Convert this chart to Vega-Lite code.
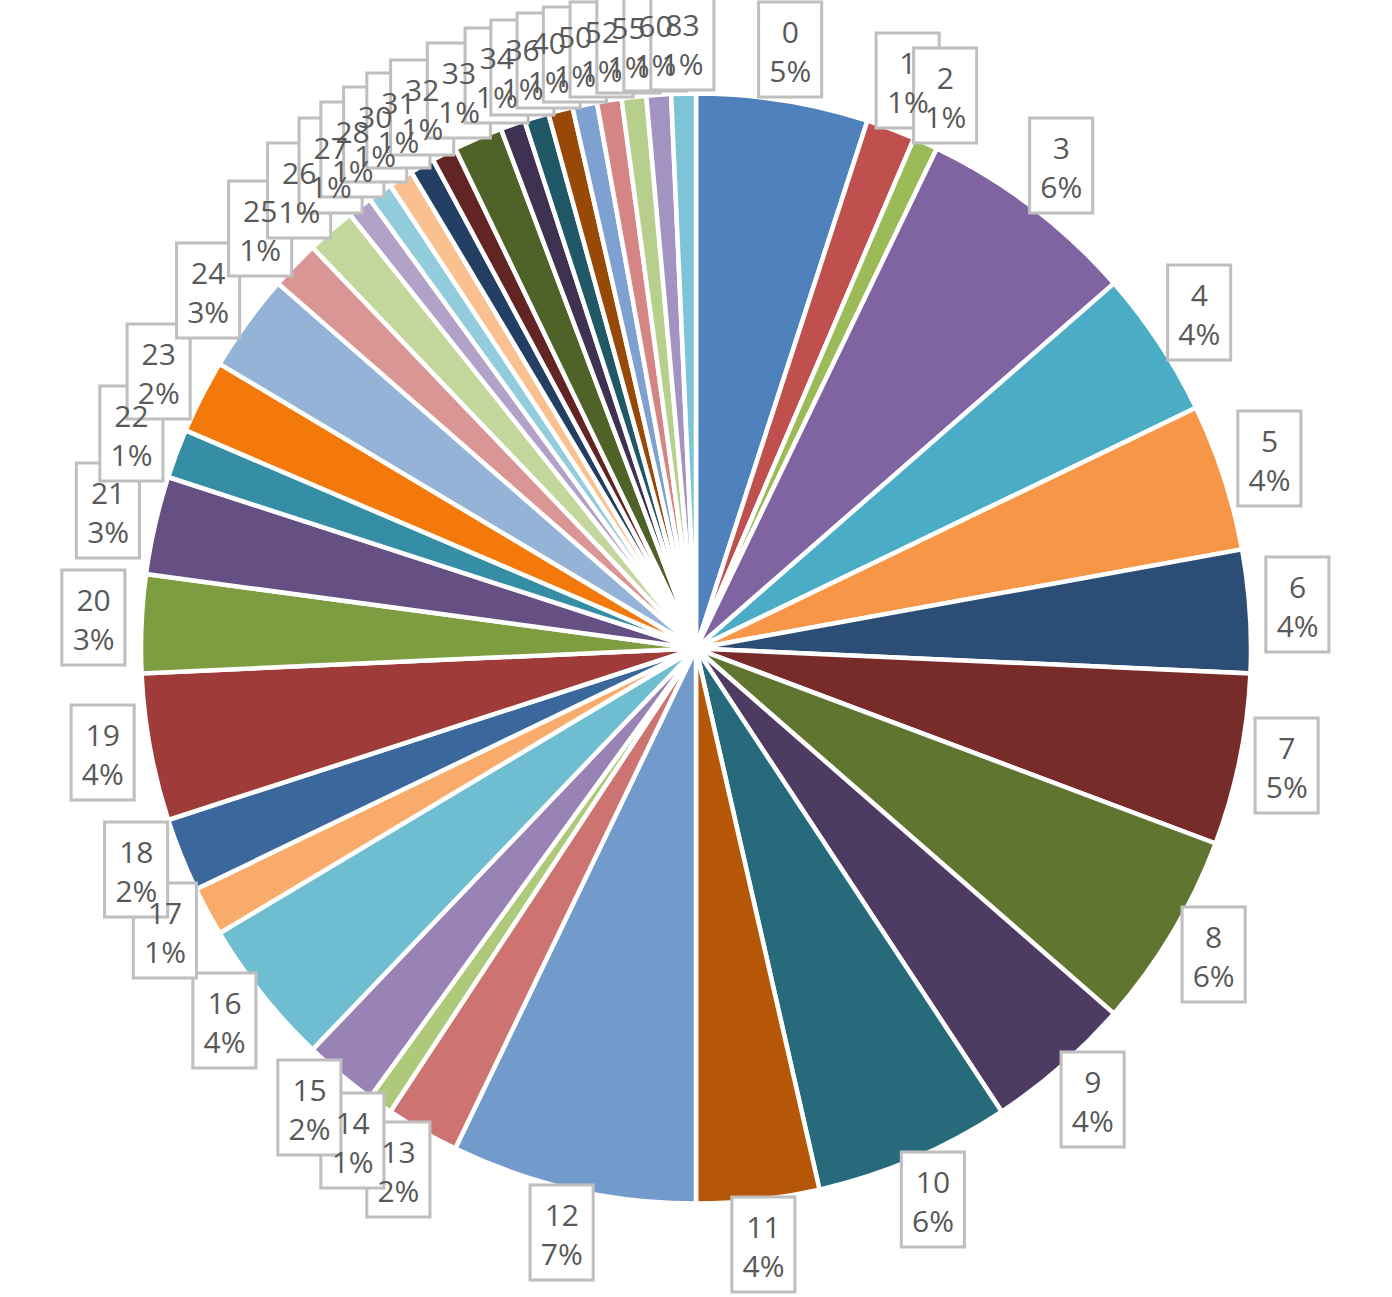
{
  "$schema": "https://vega.github.io/schema/vega-lite/v6.json",
  "width": 1392,
  "height": 1297,
  "padding": 0,
  "autosize": {"type": "fit", "contains": "padding"},
  "background": "white",
  "config": {"view": {"stroke": null}},
  "data": {
    "values": [
      {"k": 0, "cat": "0", "n": 7, "lbl": "0\n5%"},
      {"k": 1, "cat": "1", "n": 2, "lbl": "1\n1%"},
      {"k": 2, "cat": "2", "n": 1, "lbl": "2\n1%"},
      {"k": 3, "cat": "3", "n": 9, "lbl": "3\n6%"},
      {"k": 4, "cat": "4", "n": 6, "lbl": "4\n4%"},
      {"k": 5, "cat": "5", "n": 6, "lbl": "5\n4%"},
      {"k": 6, "cat": "6", "n": 5, "lbl": "6\n4%"},
      {"k": 7, "cat": "7", "n": 7, "lbl": "7\n5%"},
      {"k": 8, "cat": "8", "n": 8, "lbl": "8\n6%"},
      {"k": 9, "cat": "9", "n": 6, "lbl": "9\n4%"},
      {"k": 10, "cat": "10", "n": 8, "lbl": "10\n6%"},
      {"k": 11, "cat": "11", "n": 5, "lbl": "11\n4%"},
      {"k": 12, "cat": "12", "n": 10, "lbl": "12\n7%"},
      {"k": 13, "cat": "13", "n": 3, "lbl": "13\n2%"},
      {"k": 14, "cat": "14", "n": 1, "lbl": "14\n1%"},
      {"k": 15, "cat": "15", "n": 3, "lbl": "15\n2%"},
      {"k": 16, "cat": "16", "n": 6, "lbl": "16\n4%"},
      {"k": 17, "cat": "17", "n": 2, "lbl": "17\n1%"},
      {"k": 18, "cat": "18", "n": 3, "lbl": "18\n2%"},
      {"k": 19, "cat": "19", "n": 6, "lbl": "19\n4%"},
      {"k": 20, "cat": "20", "n": 4, "lbl": "20\n3%"},
      {"k": 21, "cat": "21", "n": 4, "lbl": "21\n3%"},
      {"k": 22, "cat": "22", "n": 2, "lbl": "22\n1%"},
      {"k": 23, "cat": "23", "n": 3, "lbl": "23\n2%"},
      {"k": 24, "cat": "24", "n": 4, "lbl": "24\n3%"},
      {"k": 25, "cat": "25", "n": 2, "lbl": "25\n1%"},
      {"k": 26, "cat": "26", "n": 2, "lbl": "26\n1%"},
      {"k": 27, "cat": "27", "n": 1, "lbl": "27\n1%"},
      {"k": 28, "cat": "28", "n": 1, "lbl": "28\n1%"},
      {"k": 29, "cat": "30", "n": 1, "lbl": "30\n1%"},
      {"k": 30, "cat": "31", "n": 1, "lbl": "31\n1%"},
      {"k": 31, "cat": "32", "n": 1, "lbl": "32\n1%"},
      {"k": 32, "cat": "33", "n": 2, "lbl": "33\n1%"},
      {"k": 33, "cat": "34", "n": 1, "lbl": "34\n1%"},
      {"k": 34, "cat": "36", "n": 1, "lbl": "36\n1%"},
      {"k": 35, "cat": "40", "n": 1, "lbl": "40\n1%"},
      {"k": 36, "cat": "50", "n": 1, "lbl": "50\n1%"},
      {"k": 37, "cat": "52", "n": 1, "lbl": "52\n1%"},
      {"k": 38, "cat": "55", "n": 1, "lbl": "55\n1%"},
      {"k": 39, "cat": "60", "n": 1, "lbl": "60\n1%"},
      {"k": 40, "cat": "83", "n": 1, "lbl": "83\n1%"}
    ]
  },
  "encoding": {
    "theta": {"field": "n", "type": "quantitative", "stack": true},
    "order": {"field": "k", "type": "quantitative"}
  },
  "layer": [
    {
      "mark": {"type": "arc", "outerRadius": 555, "stroke": "white", "strokeWidth": 4.5},
      "encoding": {
        "color": {
          "field": "k",
          "type": "nominal",
          "legend": null,
          "scale": {
            "domain": [0,1,2,3,4,5,6,7,8,9,10,11,12,13,14,15,16,17,18,19,20,21,22,23,24,25,26,27,28,29,30,31,32,33,34,35,36,37,38,39,40],
            "range": ["#4F81BD","#C0504D","#9BBB59","#8064A2","#4BACC6","#F79646","#2C4D75","#772C2A","#5F7530","#4D3B62","#276A7C","#B65708","#729ACA","#CD7371","#AFC97A","#9983B5","#6FBDD1","#F9AB6B","#3A679C","#9F3B38","#7E9D40","#664F83","#358EA6","#F3790B","#95B3D7","#D99694","#C3D69B","#B2A2C7","#93CDDD","#FAC090","#233F63","#632523","#4F6228","#3F3151","#205867","#984807","#7EA1D2","#D58584","#B7CF8C","#A393C0","#7EC4D7"]
          }
        }
      }
    },
    {
      "mark": {"type": "text", "radius": 603, "text": "█", "font": "DejaVu Sans", "fontSize": 80, "fill": "white", "stroke": "#BFBFBF", "strokeWidth": 3, "align": "center", "baseline": "middle"},
      "encoding": {"detail": {"field": "k", "type": "nominal"}}
    },
    {
      "mark": {"type": "text", "radius": 603, "dy": -19, "font": "Open Sans", "fontSize": 30, "lineHeight": 39, "lineBreak": "\n", "fill": "#595959", "align": "center", "baseline": "middle"},
      "encoding": {
        "detail": {"field": "k", "type": "nominal"},
        "text": {"field": "lbl", "type": "nominal"}
      }
    }
  ]
}
